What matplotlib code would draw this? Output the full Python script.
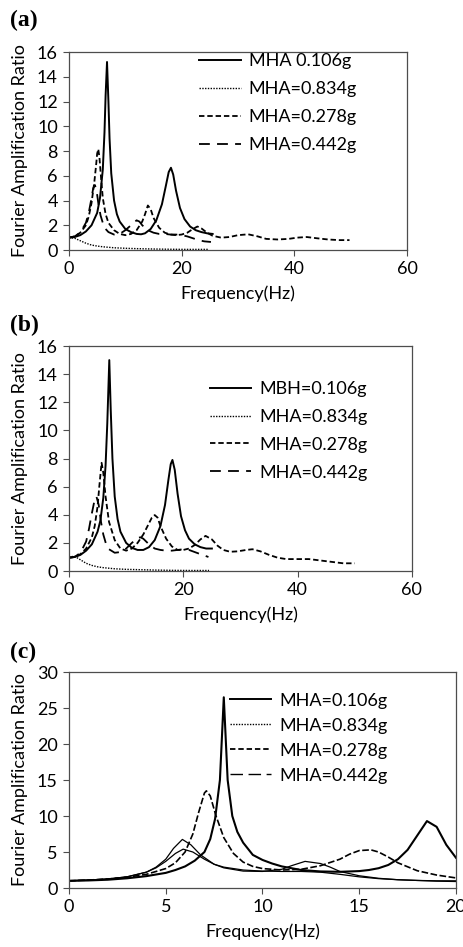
import matplotlib
matplotlib.use('Agg')
import matplotlib.pyplot as plt
from matplotlib.lines import Line2D

plt.rcParams['font.family'] = ['Lato', 'DejaVu Sans']
plt.rcParams['font.size'] = 13

# ---- panel (a) ----
a_labels = ['MHA 0.106g', 'MHA=0.834g', 'MHA=0.278g', 'MHA=0.442g']
a_f1 = [0, 1, 2, 3, 4, 5, 5.5, 6, 6.3, 6.5, 6.75, 7.0, 7.2, 7.5, 8, 8.5, 9, 10, 11, 12, 12.8, 13.5,
        14.5, 15.5, 16.5, 17.2, 17.7, 18.1, 18.5, 19, 19.7, 20.5, 21.5, 22.5, 23.5, 24.5, 25.5]
a_y1 = [1.0, 1.05, 1.2, 1.5, 2.0, 3.0, 4.2, 6.5, 9.5, 12.5, 15.2, 12.0, 9.0, 6.2, 4.0, 2.9, 2.3, 1.7,
        1.45, 1.3, 1.27, 1.35, 1.7, 2.4, 3.7, 5.2, 6.3, 6.65, 6.1, 4.8, 3.4, 2.5, 1.9, 1.6, 1.45, 1.35, 1.3]
a_f2 = [0, 1, 2, 3, 4, 5, 6, 8, 10, 12, 15, 18, 21, 24.8]
a_y2 = [1.0, 0.95, 0.75, 0.55, 0.4, 0.32, 0.26, 0.18, 0.14, 0.11, 0.08, 0.06, 0.05, 0.05]
a_f3 = [0, 1, 2, 3, 3.5, 4, 4.5, 4.8, 5.0, 5.2, 5.4, 5.7, 6, 6.5, 7, 8, 9, 10, 11, 12, 13, 13.5, 14,
        14.5, 15, 16, 17, 18, 19, 20, 21, 22, 22.8, 23.5, 24.5, 25.5, 27, 28.5, 30, 31.8, 33.5, 35, 37,
        39, 40.5, 42.2, 44, 46, 48, 49.8]
a_y3 = [1.0, 1.1, 1.4, 2.0, 2.7, 3.8, 5.5, 6.8, 7.8, 8.15, 7.5, 5.8, 4.2, 2.9, 2.2, 1.6, 1.3, 1.2, 1.3,
        1.6, 2.3, 2.9, 3.6, 3.3, 2.6, 1.8, 1.4, 1.25, 1.2, 1.25, 1.4, 1.7, 1.9, 1.75, 1.4, 1.15, 1.0,
        1.05, 1.2, 1.27, 1.1, 0.9, 0.85, 0.9, 1.0, 1.05, 0.95, 0.85, 0.8, 0.8]
a_f4 = [0, 1, 2, 3, 3.5, 4, 4.3, 4.6, 4.9, 5.2, 5.6, 6, 6.5, 7, 8, 9, 10, 11, 12, 12.5, 13, 14, 15,
        16, 17, 18, 19, 20, 21, 22, 23, 24, 25.2]
a_y4 = [1.0, 1.1, 1.4, 2.2, 3.0, 4.2, 5.0, 5.25, 4.8, 3.8, 2.8, 2.2, 1.7, 1.45, 1.25, 1.3, 1.6, 2.0,
        2.4, 2.3, 2.0, 1.6, 1.4, 1.3, 1.3, 1.25, 1.25, 1.2, 1.1, 0.95, 0.8, 0.7, 0.65]

# ---- panel (b) ----
b_labels = ['MBH=0.106g', 'MHA=0.834g', 'MHA=0.278g', 'MHA=0.442g']
b_f1 = [0, 1, 2, 3, 4, 5, 5.5, 6, 6.4, 6.7, 7.05, 7.3, 7.6, 8, 8.5, 9, 10, 11, 12, 13, 14, 15, 16,
        16.8, 17.4, 17.8, 18.1, 18.5, 19, 19.6, 20.3, 21, 22, 23, 24, 25]
b_y1 = [0.95, 1.0, 1.15, 1.45, 1.9, 2.8, 3.6, 5.2, 7.5, 10.5, 15.0, 11.5, 8.0, 5.3, 3.7, 2.8, 2.0,
        1.65, 1.5, 1.5, 1.7, 2.2, 3.2, 4.7, 6.5, 7.6, 7.9, 7.2, 5.5, 3.9, 2.9, 2.3, 1.9, 1.7, 1.6, 1.6]
b_f2 = [0, 1, 2, 3, 4, 5, 6, 8, 10, 12, 15, 18, 21, 24.5]
b_y2 = [1.0, 1.05, 0.8, 0.55, 0.4, 0.3, 0.24, 0.16, 0.12, 0.1, 0.07, 0.05, 0.04, 0.04]
b_f3 = [0, 1, 2, 3, 4, 4.5, 5, 5.3, 5.7, 6.0, 6.4, 7, 8, 9, 10, 11, 12, 13, 14, 14.5, 15, 15.5, 16,
        17, 18, 19, 20, 21, 22, 23, 23.9, 25, 26, 27, 28.2, 29.5, 31, 32.1, 33.5, 35, 36.5, 38, 40,
        42, 44, 46, 48, 50]
b_y3 = [0.95, 1.0, 1.2, 1.6, 2.4, 3.2, 4.6, 6.0, 7.7, 7.0, 5.3, 3.5, 2.2, 1.6, 1.45, 1.6, 2.0, 2.6,
        3.4, 3.8, 3.98, 3.8, 3.2, 2.3, 1.75, 1.5, 1.5, 1.6, 1.85, 2.25, 2.5, 2.25, 1.8, 1.5, 1.37,
        1.4, 1.5, 1.55, 1.4, 1.15, 0.95, 0.85, 0.85, 0.85, 0.75, 0.65, 0.55, 0.55]
b_f4 = [0, 1, 2, 3, 3.5, 4, 4.4, 4.8, 5.2, 5.6, 6, 6.5, 7, 8, 9, 10, 11, 12, 12.5, 13, 14, 15, 16,
        17, 18, 19, 20, 21, 22, 23, 24.4]
b_y4 = [0.95, 1.0, 1.3, 2.1, 3.0, 4.1, 4.9, 5.3, 4.7, 3.5, 2.6, 1.9, 1.55, 1.3, 1.35, 1.6, 2.0, 2.35,
        2.4, 2.3, 1.9, 1.6, 1.5, 1.45, 1.45, 1.5, 1.55, 1.5, 1.35, 1.2, 1.0]

# ---- panel (c) ----
c_labels = ['MHA=0.106g', 'MHA=0.834g', 'MHA=0.278g', 'MHA=0.442g']
c_f1 = [0, 1, 2, 3, 4, 5, 5.5, 6, 6.5, 7, 7.3, 7.55, 7.8, 8.0, 8.2, 8.44, 8.7, 9, 9.5, 10, 10.5, 11,
        12, 13, 14, 15, 15.5, 16, 16.5, 17, 17.5, 18, 18.5, 19, 19.5, 20]
c_y1 = [1.0, 1.05, 1.15, 1.35, 1.65, 2.1, 2.5, 3.0, 3.8, 5.0, 6.8, 9.6, 15.0, 26.5, 15.0, 10.0, 7.8,
        6.3, 4.6, 3.9, 3.4, 3.0, 2.5, 2.3, 2.25, 2.35, 2.5, 2.75, 3.2, 4.0, 5.3, 7.3, 9.3, 8.5, 6.0, 4.2]
c_f2 = [0, 1, 2, 3, 4, 4.5, 5, 5.5, 5.9, 6.4, 7, 7.5, 8, 9, 10, 11, 12, 13, 14, 15, 16, 17, 18, 19, 20]
c_y2 = [1.0, 1.1, 1.25, 1.55, 2.2, 2.8, 3.7, 4.8, 5.4, 5.0, 4.0, 3.3, 2.9, 2.5, 2.35, 2.3, 2.3, 2.2,
        1.9, 1.55, 1.3, 1.15, 1.05, 0.95, 0.9]
c_f3 = [0, 1, 2, 3, 4, 5, 5.5, 6, 6.4, 6.7, 7.0, 7.1, 7.3, 7.6, 8, 8.5, 9, 9.5, 10, 11, 12, 13, 14,
        14.5, 15, 15.6, 16, 16.5, 17, 18, 19, 20]
c_y3 = [1.0, 1.1, 1.25, 1.5, 1.9, 2.7, 3.5, 5.0, 7.5, 10.5, 13.2, 13.5, 12.8, 10.0, 7.0, 4.8, 3.6, 3.0,
        2.7, 2.5, 2.6, 3.1, 4.0, 4.7, 5.2, 5.3, 5.0, 4.3, 3.5, 2.4, 1.8, 1.4]
c_f4 = [0, 1, 2, 3, 4, 4.5, 5, 5.4, 5.86, 6.3, 6.8, 7.5, 8, 9, 10, 11, 11.5, 12.2, 13, 13.5, 14, 15,
        16, 17, 18, 19, 20]
c_y4 = [1.0, 1.1, 1.25, 1.55, 2.2, 2.9, 4.0, 5.5, 6.75, 6.0, 4.6, 3.3, 2.8, 2.35, 2.3, 2.6, 3.1, 3.7,
        3.4, 2.9, 2.3, 1.7, 1.35, 1.15, 1.05, 1.0, 1.0]

solid = dict(color='black', lw=1.4, linestyle='-')
dotted = dict(color='black', lw=1.0, linestyle=(0, (1, 1)))
shortdash = dict(color='black', lw=1.3, linestyle=(0, (3, 1.6)))
longdash = dict(color='black', lw=1.3, linestyle=(0, (6, 4)))
spine_col = '#4d4d4d'


def style_axes(ax, xmax, xstep, ymax, ystep, ylab_x):
    ax.set_xlim(0, xmax)
    ax.set_ylim(0, ymax)
    ax.set_xticks(range(0, xmax + 1, xstep))
    ax.set_yticks(range(0, ymax + 1, ystep))
    for s in ax.spines.values():
        s.set_color(spine_col)
        s.set_linewidth(0.9)
    ax.tick_params(direction='out', length=4, width=0.8, color=spine_col, labelsize=13, pad=4)
    ax.set_xlabel('Frequency(Hz)', fontsize=13, labelpad=6)
    ax.set_ylabel('Fourier Amplification Ratio', fontsize=13)
    ax.yaxis.set_label_coords(ylab_x, 0.5)


def legend(ax, handles, labels, x, y, spacing):
    ax.legend(handles, labels, loc='upper left', bbox_to_anchor=(x, y), frameon=False,
              borderpad=0, borderaxespad=0, handlelength=2.3, handletextpad=0.45,
              labelspacing=spacing, fontsize=13)


fig = plt.figure(figsize=(4.64, 9.47), dpi=100)

ax = fig.add_axes([0.1487, 0.736, 0.7284, 0.209])
h = [ax.plot(a_f1, a_y1, **solid)[0], ax.plot(a_f2, a_y2, **dotted)[0],
     ax.plot(a_f3, a_y3, **shortdash)[0], ax.plot(a_f4, a_y4, **longdash)[0]]
style_axes(ax, 60, 20, 16, 2, -0.121)
legend(ax, h, a_labels, 0.385, 0.995, 0.66)

ax = fig.add_axes([0.1487, 0.397, 0.739, 0.2376])
h = [ax.plot(b_f1, b_y1, **solid)[0], ax.plot(b_f2, b_y2, **dotted)[0],
     ax.plot(b_f3, b_y3, **shortdash)[0], ax.plot(b_f4, b_y4, **longdash)[0]]
style_axes(ax, 60, 20, 16, 2, -0.12)
legend(ax, h, b_labels, 0.41, 0.845, 0.66)

ax = fig.add_axes([0.1487, 0.0623, 0.834, 0.228])
ax.plot(c_f4, c_y4, color='black', lw=0.9)
ax.plot(c_f2, c_y2, color='black', lw=0.9)
ax.plot(c_f3, c_y3, color='black', lw=1.2, linestyle=(0, (4, 1.5)))
ax.plot(c_f1, c_y1, color='black', lw=1.5)
style_axes(ax, 20, 5, 30, 5, -0.106)
h = [Line2D([], [], **solid), Line2D([], [], **dotted),
     Line2D([], [], **shortdash), Line2D([], [], color='black', lw=1.0, linestyle=(0, (9, 4)))]
legend(ax, h, c_labels, 0.415, 0.905, 0.5)

# panel tags
for tag, ypix in [('(a)', 20), ('(b)', 325), ('(c)', 652)]:
    fig.text(10 / 464, 1 - ypix / 947, tag, family='Liberation Serif', fontweight='bold',
             fontsize=17, va='center', ha='left')

fig.savefig('out.png', dpi=100)
